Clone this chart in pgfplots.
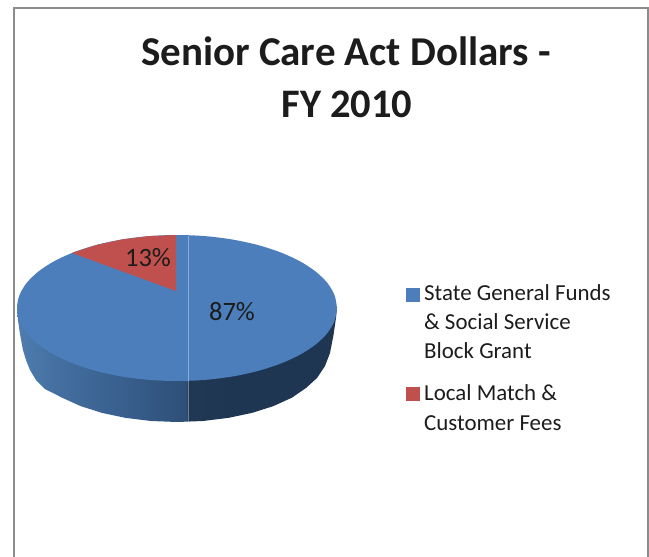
\documentclass[border=0pt]{standalone}
\usepackage{fontspec}
\setmainfont{Carlito}
\usepackage{pgfplots}
\pgfplotsset{compat=1.18}
\definecolor{pieblue}{HTML}{4C7EBB}
\definecolor{piered}{HTML}{C0504D}
\definecolor{framegray}{HTML}{8C8C8C}
\definecolor{txt}{HTML}{1C1C1C}
% side of the pie: path bounding box maps to 25bp..75bp
\pgfdeclarehorizontalshading{pieside}{100bp}{
  rgb(0bp)=(0.31,0.49,0.69);
  rgb(25bp)=(0.31,0.49,0.69);
  rgb(32bp)=(0.26,0.43,0.62);
  rgb(42bp)=(0.22,0.37,0.55);
  rgb(51.5bp)=(0.18,0.31,0.47);
  rgb(51.7bp)=(0.13,0.22,0.33);
  rgb(60bp)=(0.12,0.21,0.32);
  rgb(75bp)=(0.12,0.21,0.32);
  rgb(100bp)=(0.12,0.21,0.32)}
\begin{document}
\begin{tikzpicture}
\useasboundingbox (0,0) rectangle (649pt,557pt);
\begin{axis}[
    at={(0,0)}, anchor=south west,
    width=649pt, height=557pt,
    scale only axis,
    hide axis,
    xmin=0, xmax=649,
    ymin=0, ymax=557,
    y dir=reverse,
    clip=true,
]
% chart frame, open at the bottom
\addplot[framegray, line width=2pt] coordinates {(13.5,557) (13.5,7.5) (648,7.5) (648,557)};

% side of the pie
\addplot[draw=none, shade, shading=pieside] coordinates {
    (337,308) (336,318) (333.5,335) (330,353) (325,366) (317,378) (306,388)
    (291.9,397.7) (273.4,406.1) (252,412.9) (228.3,417.9) (203,421) (177,422)
    (151,421) (125.7,417.9) (102,412.9) (80.6,406.1) (62.1,397.7) (45,389)
    (36,380) (30,370) (26,360) (23,350) (20,334) (18,320) (17,308)
};

% top face, 87%
\addplot[draw=none, fill=pieblue, smooth] coordinates {
    (337,308) (334.6,320.7) (327.4,333) (315.6,344.5) (299.6,354.9) (279.8,363.9)
    (257,371.2) (231.7,376.6) (204.8,379.9) (177,381) (149.2,379.9) (122.3,376.6)
    (97,371.2) (74.2,363.9) (54.4,354.9) (38.4,344.5) (26.6,333) (19.4,320.7)
    (17,308) (19.4,295.3) (26.6,283) (38.4,271.5) (54.4,261.1) (74.2,252.1)
    (97,244.8) (122.3,239.4) (149.2,236.1) (177,235) (204.8,236.1) (231.7,239.4)
    (257,244.8) (279.8,252.1) (299.6,261.1) (315.6,271.5) (327.4,283) (334.6,295.3)
    (337,308)
};

% slice, 13%
\addplot[draw=none, fill=piered] coordinates {
    (176,291) (72,253) (74.2,252.1) (97,244.8) (122.3,239.4) (149.2,236.1) (176,235)
};

% seam line on the pie
\addplot[white, opacity=0.35, line width=1pt] coordinates {(188,236) (188,422)};

% legend keys
\addplot[draw=none, fill=pieblue] coordinates {(406,288) (419.5,288) (419.5,302) (406,302)};
\addplot[draw=none, fill=piered] coordinates {(406,387) (419.5,387) (419.5,401) (406,401)};

% title
\node[anchor=base, font=\fontsize{41}{41}\selectfont\bfseries, text=txt] at (axis cs:346,65) {Senior Care Act Dollars -};
\node[anchor=base, font=\fontsize{40.5}{41}\selectfont\bfseries, text=txt] at (axis cs:347,117.5) {FY 2010};

% data labels
\node[font=\fontsize{26.5}{27}\selectfont, text=txt] at (axis cs:232,312) {87\%};
\node[font=\fontsize{26.5}{27}\selectfont, text=txt] at (axis cs:148,258) {13\%};

% legend text
\node[anchor=base west, inner sep=0pt, font=\fontsize{22.9}{23}\selectfont, text=txt] at (axis cs:424,300.7) {State General Funds};
\node[anchor=base west, inner sep=0pt, font=\fontsize{22.9}{23}\selectfont, text=txt] at (axis cs:424,329.5) {\& Social Service};
\node[anchor=base west, inner sep=0pt, font=\fontsize{22.9}{23}\selectfont, text=txt] at (axis cs:424,358.7) {Block Grant};
\node[anchor=base west, inner sep=0pt, font=\fontsize{22.9}{23}\selectfont, text=txt] at (axis cs:424,400.7) {Local Match \&};
\node[anchor=base west, inner sep=0pt, font=\fontsize{22.9}{23}\selectfont, text=txt] at (axis cs:424,430) {Customer Fees};
\end{axis}
\end{tikzpicture}
\end{document}
